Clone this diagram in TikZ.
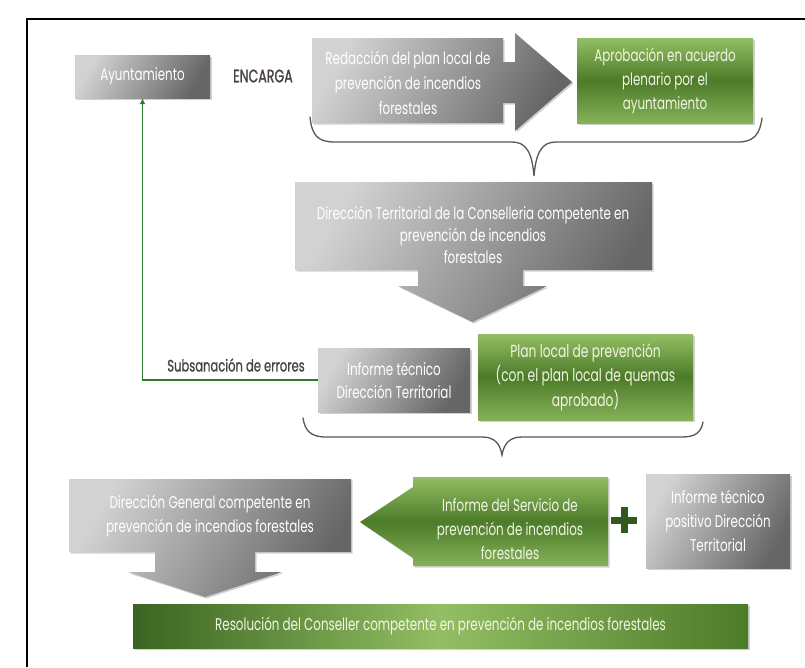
\documentclass[tikz,border=0pt]{standalone}
\usepackage{fontspec}
\setmainfont[FakeStretch=0.7]{Poppins}
\usetikzlibrary{shadows,arrows.meta}
\definecolor{gL}{HTML}{D2D2D2}
\definecolor{gD}{HTML}{666666}
\definecolor{grL}{HTML}{93BE63}
\definecolor{grM}{HTML}{4C7B29}
\definecolor{grD}{HTML}{3A6420}
\definecolor{txtD}{HTML}{4A4242}
\definecolor{braceC}{HTML}{55594E}
\definecolor{lineG}{HTML}{2F7A2F}
\definecolor{plusG}{HTML}{2E5A1E}
\definecolor{txtG}{HTML}{F2F6E4}
\begin{document}
\begin{tikzpicture}[x=1pt,y=-1pt,
  shad/.style={drop shadow={shadow xshift=1.5pt,shadow yshift=-1.5pt,opacity=0.3,fill=black!60}},
  grayfill/.style={left color=gL,right color=gD,shading angle=60,shad},
  greenfill/.style={top color=grL,bottom color=grL!80!grM,middle color=grM,shad},
  boxtxt/.style={text=white,align=center,font=\fontsize{17}{24}\selectfont,inner sep=0pt},
  greentxt/.style={text=txtG,align=center,font=\fontsize{17}{24}\selectfont,inner sep=0pt},
  darktxt/.style={text=txtD,inner sep=0pt},
  bracestyle/.style={draw=braceC,line width=1.3pt,line cap=round}
]
\useasboundingbox (0,0) rectangle (805,667);
\fill[white] (0,0) rectangle (805,667);
\draw[line width=2pt] (27,667) -- (27,19) -- (805,19);

% Ayuntamiento
\node[grayfill,boxtxt,minimum width=135pt,minimum height=43pt] (ayto) at (142.5,76.5) {Ayuntamiento};
\node[darktxt,font=\fontsize{18}{20}\selectfont\addfontfeature{FakeBold=1.2}] (encarga) at (263,76) {ENCARGA};

% Redaccion arrow
\path[grayfill] (312,38) -- (503,38) -- (503,62) -- (515,62) -- (515,33) -- (572,82)
  -- (515,131) -- (515,103) -- (503,103) -- (503,123) -- (312,123) -- cycle;
\node[boxtxt,font=\fontsize{17}{25}\selectfont] (redac) at (408,83) {Redacción del plan local de\\prevención de incendios\\forestales};

% Aprobacion
\node[greenfill,greentxt,minimum width=176pt,minimum height=85pt] (aprob) at (665,80.5)
  {Aprobación en acuerdo\\plenario por el\\ayuntamiento};

% brace 1
\draw[bracestyle] (310,117) .. controls (312,136) and (318,142) .. (335,142)
  -- (512,142) .. controls (526,142) and (532,152) .. (534,176)
  .. controls (536,152) and (542,142) .. (556,142)
  -- (738,142) .. controls (754,142) and (760,134) .. (762,118);

% Direccion Territorial with down arrow
\path[grayfill] (295,182) -- (652,182) -- (652,270) -- (523,270) -- (523,286) -- (547,286)
  -- (472.5,322) -- (398,286) -- (418,286) -- (418,270) -- (295,270) -- cycle;
\node[boxtxt,font=\fontsize{17}{22}\selectfont] (dirT) at (473,235)
  {Dirección Territorial de la Conselleria competente en\\prevención de incendios\\forestales};

% Informe tecnico / Plan local
\node[grayfill,boxtxt,font=\fontsize{17}{23}\selectfont,minimum width=152pt,minimum height=64pt] (infT) at (394,380)
  {Informe técnico\\Dirección Territorial};
\node[greenfill,greentxt,font=\fontsize{17.5}{24.5}\selectfont,minimum width=215pt,minimum height=86pt] (planL) at (585.5,377)
  {Plan local de prevención\\(con el plan local de quemas\\aprobado)};

% Subsanacion
\node[darktxt,font=\fontsize{16.5}{18}\selectfont\addfontfeature{FakeBold=1}] (subs) at (236,365) {Subsanación de errores};
\draw[lineG,line width=1.3pt,-{Latex[length=6pt,width=6pt]}] (infT.west) -| (ayto.south);

% brace 2
\draw[bracestyle] (303,418) .. controls (305,431) and (311,437) .. (326,437)
  -- (482,437) .. controls (495,437) and (500,444) .. (502,455)
  .. controls (504,444) and (509,437) .. (522,437)
  -- (682,437) .. controls (696,437) and (701,432) .. (703,422);

% Direccion General with down arrow
\path[grayfill] (69,479) -- (351,479) -- (351,552) -- (255,552) -- (255,572) -- (282,572)
  -- (205,597) -- (128,572) -- (155,572) -- (155,552) -- (69,552) -- cycle;
\node[boxtxt,font=\fontsize{17}{24}\selectfont] (dirG) at (210,516)
  {Dirección General competente en\\prevención de incendios forestales};

% Informe del Servicio left arrow
\path[greenfill] (413,477) -- (608,477) -- (608,566) -- (413,566) -- (413,558) -- (360,522) -- (413,487) -- cycle;
\node[greentxt] (infS) at (510,529) {Informe del Servicio de\\prevención de incendios\\forestales};

% plus
\fill[plusG] (620.5,507) rectangle (627.5,533);
\fill[plusG] (611,516.5) rectangle (637,523.5);

% Informe tecnico positivo
\node[grayfill,boxtxt,minimum width=144pt,minimum height=94pt] (infP) at (718,521)
  {Informe técnico\\positivo Dirección\\Territorial};

% Resolucion
\node[left color=grD,right color=grM,middle color=grL,shad,greentxt,minimum width=615pt,minimum height=44pt] (resol) at (440.5,626)
  {Resolución del Conseller competente en prevención de incendios forestales};
\end{tikzpicture}
\end{document}
